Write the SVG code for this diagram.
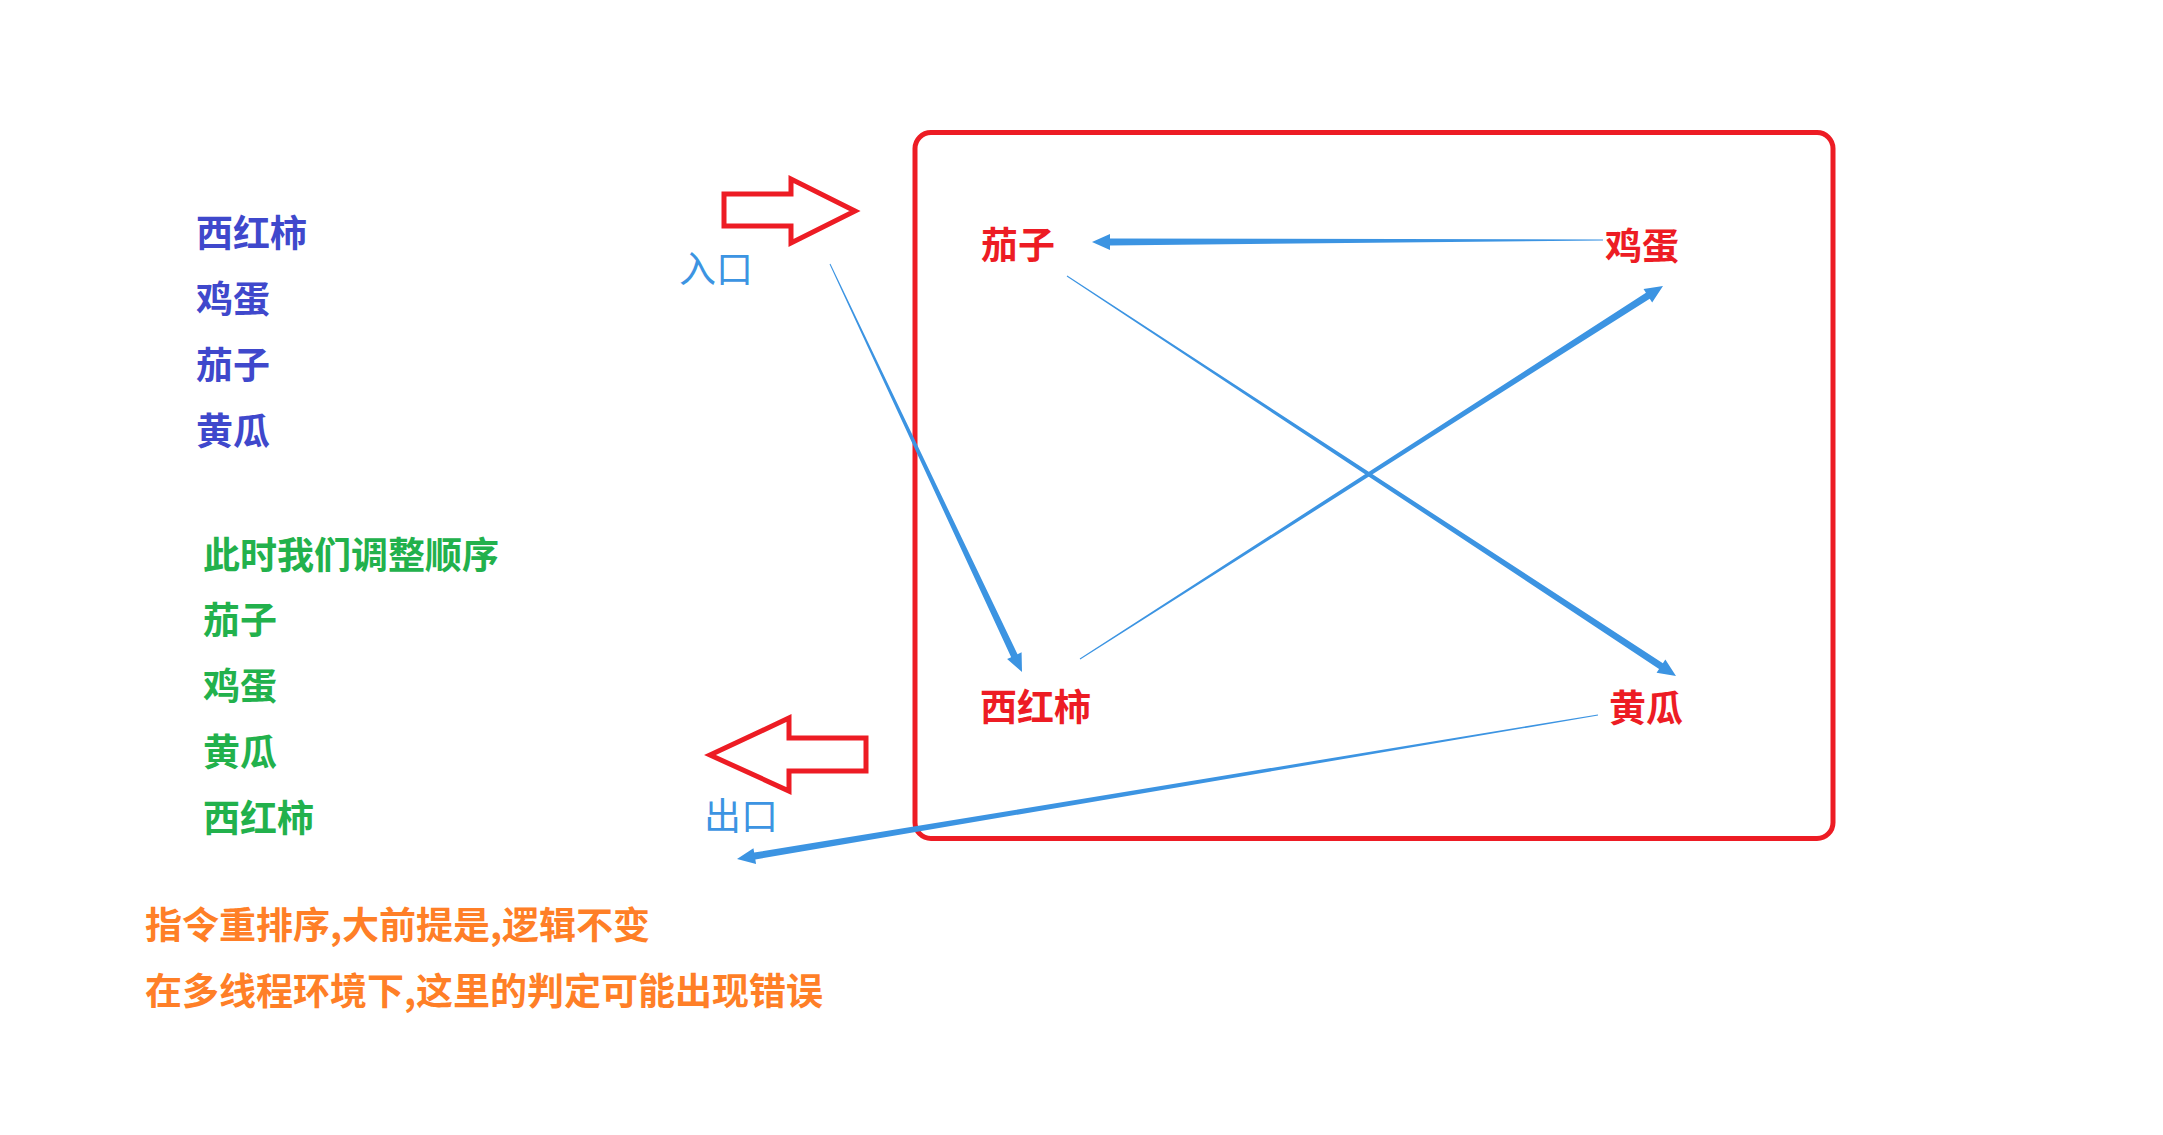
<svg xmlns="http://www.w3.org/2000/svg" width="2163" height="1135" viewBox="0 0 2163 1135">
<style>
text{font-family:"Noto Sans CJK SC","Noto Sans",sans-serif;font-size:37px}
.b{font-weight:bold}
.indigo{fill:#3f48cc}
.green{fill:#22b14c}
.orange{fill:#ff7f27}
.red{fill:#ed1c24}
.lbl{fill:#3c94e2}
.frame{fill:none;stroke:#ed1c24;stroke-width:5}
.conn{fill:#3c94e2;stroke:none}
</style>
<rect width="2163" height="1135" fill="#ffffff"/>
<g id="list-original">
<text class="b indigo" x="196" y="247">西红柿</text>
<text class="b indigo" x="196" y="313">鸡蛋</text>
<text class="b indigo" x="196" y="379">茄子</text>
<text class="b indigo" x="196" y="445">黄瓜</text>
</g>
<g id="list-reordered">
<text class="b green" x="203" y="569">此时我们调整顺序</text>
<text class="b green" x="203" y="634">茄子</text>
<text class="b green" x="203" y="700">鸡蛋</text>
<text class="b green" x="203" y="766">黄瓜</text>
<text class="b green" x="203" y="832">西红柿</text>
</g>
<g id="notes">
<text class="b orange" x="145" y="939">指令重排序,大前提是,逻辑不变</text>
<text class="b orange" x="145" y="1005">在多线程环境下,这里的判定可能出现错误</text>
</g>
<g id="frame">
<rect class="frame" x="915" y="132.5" width="918" height="706" rx="16"/>
</g>
<g id="entrance">
<polygon class="frame" stroke-linejoin="miter" points="724,194 791,194 791,179 855,211 791,243 791,226 724,226"/>
<text class="lbl" x="679" y="283">入口</text>
</g>
<g id="exit">
<polygon class="frame" stroke-linejoin="miter" points="710,755 789,718 789,738 866,738 866,771 789,771 789,791"/>
<text class="lbl" x="704" y="830">出口</text>
</g>
<g id="node-qiezi"><text class="b red" x="981" y="259">茄子</text></g>
<g id="node-jidan"><text class="b red" x="1605" y="260">鸡蛋</text></g>
<g id="node-xihongshi"><text class="b red" x="980" y="721">西红柿</text></g>
<g id="node-huanggua"><text class="b red" x="1609" y="722">黄瓜</text></g>
<g id="connectors">
<polygon class="conn" points="829.55,264.21 830.45,263.79 1017.51,654.22 1021.58,652.30 1022,672 1007.10,659.12 1011.17,657.20"/>
<polygon class="conn" points="1603,239.5 1603,240.5 1110,245.4 1110,250 1092,242 1110,234 1110,238.4"/>
<polygon class="conn" points="1066.73,276.42 1067.27,275.58 1662.88,663.19 1665.35,659.43 1676,676 1656.57,672.81 1659.04,669.05"/>
<polygon class="conn" points="1080.27,659.42 1079.73,658.58 1645.95,292.75 1643.53,288.96 1663,286 1652.15,302.44 1649.73,298.65"/>
<polygon class="conn" points="1597.92,714.51 1598.08,715.49 755.33,859.48 756.07,863.92 737,859 753.43,848.14 754.17,852.58"/>
</g>
</svg>
